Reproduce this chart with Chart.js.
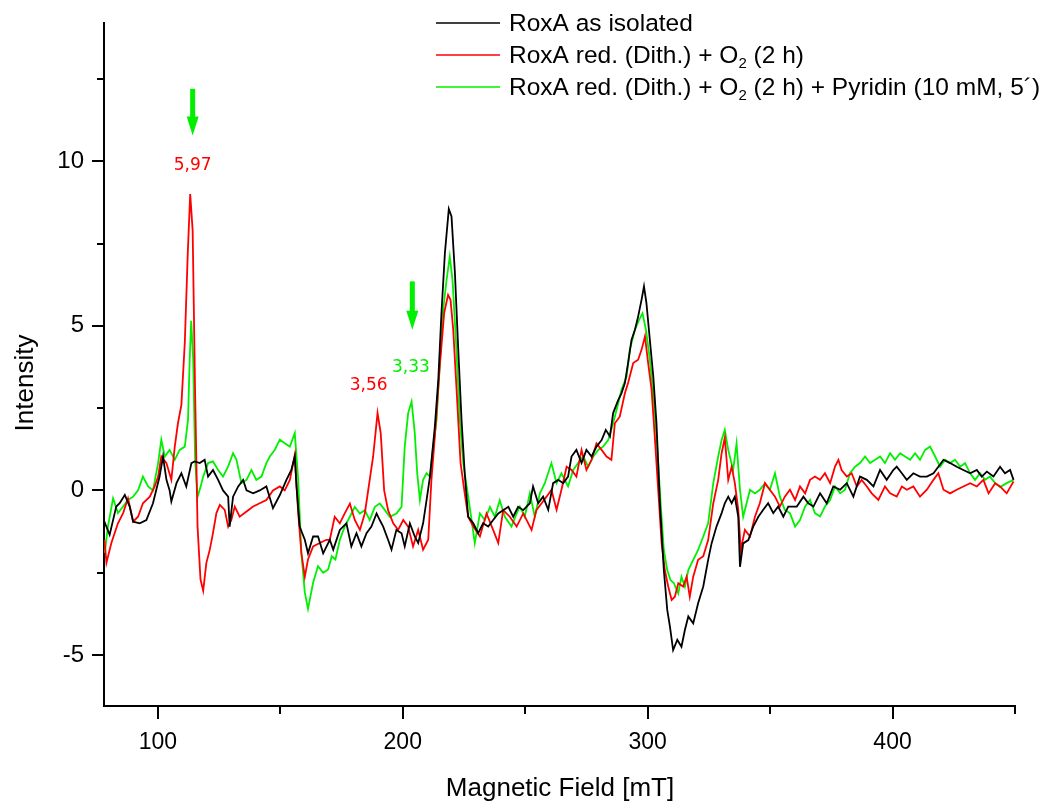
<!DOCTYPE html>
<html>
<head>
<meta charset="utf-8">
<title>RoxA EPR</title>
<script src="https://cdn.jsdelivr.net/npm/chart.js@4.4.1/dist/chart.umd.min.js"></script>
<style>
  html, body { margin: 0; padding: 0; background: #fff; }
  #c { display: block; }
</style>
</head>
<body>
<canvas id="c" width="1043" height="802"></canvas>
<script>
// EPR spectra of RoxA: magnetic field (mT) and intensity for each sample

const fieldBlack = [
  77.9, 80.3, 83, 84.4, 86.5, 88.5, 89.9, 92.6, 95.3, 98,
  100.7, 102.1, 103.5, 104.8, 105.5, 107.6, 109.6, 111.6, 113.7, 115,
  117.1, 119.1, 120.5, 122.5, 124.6, 126.6, 128.7, 129.3, 130.7, 132.8,
  134.8, 136.2, 138.9, 141.6, 144.3, 147, 149.8, 152.5, 154.5, 155.9,
  156.6, 157.9, 160, 161.3, 163.4, 165.4, 167.5, 170.2, 171.6, 174.3,
  177, 179, 181.1, 183.1, 185.2, 187.2, 189.3, 190.6, 192, 194,
  195.4, 197.4, 199.5, 200.8, 202.9, 204.9, 206.3, 208.3, 209.7, 211.1,
  213.1, 214.5, 215.8, 217.2, 218.8, 219.9, 221.3, 222.6, 224, 225.3,
  226.7, 228.8, 230.8, 232.8, 234.9, 236.9, 239, 241, 243.1, 245.1,
  247.1, 249.2, 251.9, 253.2, 255.3, 257.3, 259.4, 261.4, 263.5, 265.5,
  267.5, 268.9, 270.9, 273, 275, 277.1, 279.1, 281.2, 282.9, 284.6,
  285.9, 288, 289.3, 290.7, 292, 293.4, 294.8, 296.1, 297.5, 298.5,
  299.5, 300.9, 302.3, 303.6, 305, 306.6, 308, 309.1, 310.4, 312.1,
  313.8, 315.2, 316.6, 318.6, 320.6, 322.7, 324.7, 326.1, 328.1, 330.2,
  331.5, 332.9, 334.3, 335.6, 337, 337.7, 339, 341.1, 343.1, 345.2,
  347.2, 349.2, 351.3, 353.3, 355.4, 357.4, 360.9, 363.6, 365.6, 367.7,
  370.4, 373.1, 375.8, 378.6, 381.3, 384, 386.7, 389.5, 392.2, 394.9,
  397.6, 400.3, 401.7, 403.8, 405.8, 408.5, 411.2, 414, 416.7, 418.7,
  420.8, 423.5, 426.2, 428.9, 431.7, 434.4, 436.4, 438.5, 441.2, 443.9,
  445.9, 448, 449.4
];
const intensityBlack = [
  -0.9, -1.35, -0.49, -0.39, -0.14, -0.49, -0.95, -1.0, -0.9, -0.39,
  0.42, 1.03, 0.32, 0.0, -0.34, 0.22, 0.52, 0.12, 0.83, 0.88,
  0.83, 0.93, 0.42, 0.62, 0.32, 0.0, -0.19, -1.1, -0.19, 0.12,
  0.32, 0.0, -0.09, 0.0, 0.12, -0.54, -0.14, 0.32, 0.62, 1.03,
  0.12, -1.1, -1.5, -1.91, -1.4, -1.4, -1.91, -1.5, -1.8, -1.2,
  -1.0, -1.7, -1.3, -1.7, -1.3, -1.1, -0.7, -0.9, -1.1, -1.5,
  -1.8, -1.2, -1.3, -1.7, -1.0, -1.4, -1.6, -1.0, -0.3, 0.42,
  1.94, 3.36, 5.39, 7.21, 8.55, 8.32, 6.6, 4.37, 2.14, 0.52,
  -0.8, -1.0, -1.3, -1.0, -1.1, -0.9, -0.7, -0.6, -0.5, -0.8,
  -0.5, -0.6, -0.39, 0.12, -0.39, -0.19, -0.59, 0.22, 0.32, 0.22,
  0.42, 1.03, 1.23, 0.83, 1.23, 1.03, 1.33, 1.53, 1.84, 1.64,
  2.35, 2.75, 2.95, 3.26, 3.87, 4.57, 4.88, 5.28, 5.79, 6.2,
  5.69, 4.57, 3.46, 2.04, -0.39, -2.42, -3.63, -4.14, -4.85, -4.54,
  -4.75, -4.24, -3.83, -4.04, -3.43, -2.92, -2.11, -1.61, -1.1, -0.69,
  -0.39, -0.19, -0.39, -0.19, -0.8, -2.32, -1.61, -1.51, -1.1, -0.8,
  -0.59, -0.39, -0.69, -0.49, -0.8, -0.49, -0.49, -0.19, -0.39, -0.49,
  -0.09, -0.39, 0.12, 0.02, 0.22, -0.19, 0.42, 0.32, 0.12, 0.62,
  0.32, 0.62, 0.72, 0.52, 0.32, 0.52, 0.42, 0.42, 0.52, 0.72,
  0.93, 0.83, 0.72, 0.62, 0.52, 0.62, 0.42, 0.57, 0.42, 0.72,
  0.52, 0.62, 0.32
];

const fieldRed = [
  78.2, 79, 81, 83.7, 85.8, 87.8, 89.9, 91.9, 93.9, 96.7, 98.7,
  100.1, 101.4, 103.5, 105.5, 106.9, 108.2, 109.6, 111, 112.2, 113.2,
  114.2, 115.2, 116.2, 117.4, 118.5, 119.8, 121.2, 122.5, 123.9, 125.3,
  127.3, 128.7, 130, 131.4, 133.4, 136.2, 138.9, 141.6, 144.3, 147,
  149.8, 151.8, 153.9, 155.9, 157.3, 158.6, 160, 161.3, 163.4, 166.1,
  168.8, 170.2, 172.2, 174.3, 176.3, 178.4, 180.4, 182.5, 184.5, 186.5,
  187.9, 189.7, 191, 192.4, 194, 196.1, 198.1, 200.2, 202.2, 204.2,
  206.3, 208.3, 210.4, 211.7, 213.1, 215.1, 216.9, 218.5, 219.5, 220.6,
  221.9, 223.6, 225.3, 226.7, 228.8, 231.5, 234.2, 236.9, 239, 241,
  243.7, 246.5, 249.2, 252.6, 254.6, 256.7, 258.7, 260.7, 262.8, 264.8,
  266.9, 268.9, 270.9, 273, 275, 277.1, 279.1, 281.2, 283.2, 285.2,
  286.6, 288.6, 290.7, 292, 294.1, 296.1, 297.5, 298.9, 300.2, 301.6,
  302.9, 304.3, 305.7, 307, 308.4, 309.8, 311.1, 312.5, 314.5, 315.9,
  317.2, 318.6, 320.6, 322.7, 324.7, 326.8, 328.8, 330.2, 331.5, 332.9,
  334.3, 335.6, 337, 338, 339.7, 341.8, 343.8, 345.8, 347.9, 349.9,
  352, 354, 356, 358.1, 360.2, 362.2, 364.3, 366.3, 368.3, 370.4,
  372.4, 374.5, 376.5, 377.9, 379.2, 381.3, 383.3, 385.4, 387.4, 389.5,
  391.5, 394.2, 396.9, 399, 401.7, 403.8, 405.8, 408.5, 411.2, 414,
  416.7, 418.7, 420.8, 423.5, 426.2, 428.9, 431.7, 434.4, 437.1, 439.2,
  441.9, 443.9, 446.6, 449.4
];
const intensityRed = [
  -1.5, -2.2, -1.6, -1.0, -0.69, -0.24, -0.95, -0.8, -0.39, -0.19, 0.12,
  0.42, 1.03, 0.83, 0.32, 1.33, 2.04, 2.6, 4.5, 7.2, 9.0,
  7.9, 3.0, -1.1, -2.7, -3.05, -2.2, -1.8, -1.3, -0.69, -0.44,
  -0.59, -1.1, -0.9, -0.49, -0.8, -0.64, -0.49, -0.39, -0.29, 0.0,
  0.12, 0.0, 0.32, 1.08, -0.69, -1.91, -2.62, -2.1, -1.7, -1.6,
  -1.5, -1.5, -0.8, -1.0, -0.7, -0.4, -0.9, -1.2, -0.7, 0.32,
  1.03, 2.35, 1.74, 0.0, -0.6, -1.0, -1.2, -0.9, -1.1, -1.7,
  -1.2, -1.8, -1.5, 0.32, 1.64, 3.76, 5.39, 5.94, 5.79, 4.88,
  3.16, 0.83, -0.09, -0.8, -1.1, -1.4, -0.7, -1.2, -1.6, -0.6,
  -0.8, -1.1, -0.7, -1.2, -0.59, -0.39, -0.19, 0.02, -0.59, 0.02,
  0.72, 0.62, 0.42, 1.23, 0.62, 0.93, 1.43, 1.23, 1.03, 0.93,
  2.04, 2.24, 2.95, 3.26, 3.87, 3.97, 4.27, 4.68, 3.87, 3.06,
  1.64, 0.02, -1.61, -2.42, -2.92, -3.33, -3.23, -2.82, -2.92, -2.62,
  -3.23, -2.62, -2.11, -2.0, -1.51, -0.39, 0.32, 1.13, 1.6, 0.32,
  0.72, 0.22, -0.59, -1.81, -1.2, -1.4, -0.8, -0.39, 0.22, 0.02,
  -0.19, -0.49, -0.19, 0.02, -0.29, 0.12, -0.09, 0.32, 0.42, 0.32,
  0.52, 0.22, 0.72, 0.93, 0.62, 0.42, 0.52, 0.12, 0.32, 0.12,
  -0.09, -0.29, 0.12, -0.09, -0.19, 0.12, 0.02, 0.12, -0.19, 0.02,
  0.32, 0.52, 0.02, -0.09, 0.02, 0.12, 0.22, 0.12, 0.32, -0.09,
  0.22, 0.12, -0.09, 0.27
];

const fieldGreen = [
  78.3, 79.6, 81.7, 83.7, 85.8, 87.8, 89.9, 91.9, 93.9, 96,
  98, 100.1, 101.4, 102.8, 104.8, 106.9, 108.9, 111, 112.3, 113,
  113.6, 114.4, 115.2, 116.2, 117.4, 118.5, 120.5, 122.5, 124.6, 126.6,
  128.7, 130.7, 132.1, 134.1, 136.2, 138.2, 140.2, 142.3, 144.3, 145.7,
  147.7, 149.8, 151.8, 153.9, 155.9, 157.3, 158.6, 160, 161.3, 163.4,
  165.4, 167.5, 169.5, 171, 172.5, 174.3, 176.3, 178.4, 180.4, 182.5,
  184.5, 186.5, 188.6, 190.6, 192.7, 194.7, 197.4, 199.5, 200.8, 202.2,
  203.6, 204.9, 205.9, 207, 208.3, 209.7, 211.1, 212.4, 213.8, 215.1,
  216.5, 217.9, 219.2, 220.3, 221.7, 223.3, 224.7, 226.3, 228.1, 229.4,
  231.5, 233.5, 235.6, 237.6, 239.6, 241.7, 244.4, 246.5, 247.8, 249.8,
  251.9, 253.9, 256, 258, 260.7, 262.8, 264.8, 267.5, 269.6, 271.6,
  273.7, 275.7, 277.8, 279.8, 281.8, 283.9, 285.9, 288, 289.3, 291.4,
  292.7, 294.8, 296.5, 297.9, 299.3, 300.9, 302.3, 303.9, 305.3, 306.6,
  308, 309.3, 310.7, 312.5, 313.8, 315.2, 316.6, 318.6, 320.6, 322.7,
  324.7, 326.8, 328.8, 330.2, 331.5, 332.9, 334.9, 336.3, 337.7, 339,
  340.4, 341.8, 343.8, 345.8, 347.9, 349.9, 352, 354, 356, 358.1,
  360.2, 362.2, 364.3, 366.3, 368.3, 370.4, 372.4, 374.5, 376.5, 378.6,
  380.6, 382.6, 384.7, 386.7, 388.8, 390.8, 392.9, 394.9, 396.9, 399,
  401, 403.1, 405.1, 407.2, 409.2, 411.2, 413.3, 415.3, 417.4, 419.4,
  421.5, 423.5, 425.5, 427.6, 429.6, 431.7, 433.7, 435.7, 437.8, 439.8,
  441.9, 443.9, 446.6, 449.4
];
const intensityGreen = [
  -1.9, -1.1, -0.24, -0.69, -0.49, -0.29, -0.19, 0.0, 0.42, 0.12,
  0.0, 0.83, 1.54, 1.03, 1.23, 0.93, 1.23, 1.33, 2.14, 4.0,
  5.15, 4.0, 0.93, -0.2, 0.1, 0.42, 0.83, 0.88, 0.62, 0.42,
  0.73, 1.13, 0.93, 0.22, 0.32, 0.62, 0.32, 0.42, 0.83, 1.03,
  1.23, 1.54, 1.43, 1.33, 1.74, 0.32, -1.91, -3.1, -3.6, -2.8,
  -2.3, -2.5, -2.4, -2.0, -2.1, -1.5, -1.1, -0.8, -0.5, -0.7,
  -0.6, -0.9, -0.5, -0.4, -0.6, -0.8, -0.7, -0.5, 1.33, 2.35,
  2.7, 1.74, 0.52, -0.29, 0.32, 0.52, 0.42, 1.33, 2.14, 3.86,
  5.49, 6.4, 7.11, 6.4, 4.57, 2.14, 0.83, 0.02, -0.9, -1.6,
  -0.7, -0.9, -0.5, -0.8, -0.3, -0.8, -1.1, -0.7, -0.49, -0.8,
  -0.09, -0.8, -0.09, 0.22, 0.83, 0.22, 0.52, 0.12, 0.62, 0.83,
  1.03, 0.72, 1.03, 1.23, 1.33, 1.53, 2.04, 2.65, 3.06, 3.46,
  4.27, 4.88, 5.18, 5.38, 4.88, 3.97, 2.95, 1.33, -0.39, -1.81,
  -2.42, -2.72, -2.82, -3.13, -2.62, -2.92, -2.42, -2.11, -1.81, -1.4,
  -1.0, 0.22, 1.03, 1.53, 1.84, 1.23, 0.62, 1.43, 0.02, -0.8,
  -0.39, 0.02, -0.09, 0.02, 0.22, 0.02, 0.52, -0.19, -0.59, -0.69,
  -1.1, -0.9, -0.49, -0.29, -0.69, -0.79, -0.49, -0.29, 0.12, -0.09,
  0.02, 0.52, 0.72, 0.83, 1.03, 0.83, 0.93, 1.03, 0.83, 1.13,
  0.93, 1.13, 1.03, 0.93, 1.13, 0.93, 1.23, 1.33, 1.03, 0.72,
  0.93, 0.83, 0.93, 0.72, 0.83, 0.52, 0.32, 0.52, 0.32, 0.42,
  0.22, 0.1, 0.22, 0.32
];

const seriesNames = [
  'RoxA as isolated',
  'RoxA red. (Dith.) + O|2| (2 h)',
  'RoxA red. (Dith.) + O|2| (2 h) + Pyridin (10 mM, 5\u00B4)'
];
const seriesColors = ['#000000', '#ff0000', '#00f000'];

const xMajorTicks = [100, 200, 300, 400];
const xMinorTicks = [150, 250, 350, 450];
const yMajorTicks = [-5, 0, 5, 10];
const yMinorTicks = [-2.5, 2.5, 7.5, 12.5];

// g-value markers: [field, intensity, text, colour]
const gLabels = [
  [114.2, 9.86, '5,97', '#ff0000'],
  [186.1, 3.19, '3,56', '#ff0000'],
  [203.3, 3.74, '3,33', '#00f000']
];
// arrows: [field, intensity at tail, intensity at tip]
const gArrows = [
  [114.2, 12.2, 10.78],
  [203.9, 6.35, 4.88]
];

const toPoints = (xs, ys) => xs.map((v, i) => ({ x: v, y: ys[i] }));

const FONT = "'Liberation Sans', Arial, sans-serif";

// text with "|2|" segments drawn as subscripts
function drawRichText(ctx, text, x, y, size) {
  const parts = text.split('|');
  let cx = x;
  parts.forEach((p, i) => {
    const sub = i % 2 === 1;
    ctx.font = (sub ? Math.round(size * 0.62) : size) + 'px ' + FONT;
    ctx.fillText(p, cx, sub ? y + size * 0.32 : y);
    cx += ctx.measureText(p).width;
  });
}

const decorPlugin = {
  id: 'decor',
  afterDraw(chart) {
    const { ctx, chartArea: a, scales: { x, y } } = chart;
    ctx.save();
    ctx.strokeStyle = '#000';
    ctx.lineWidth = 2;
    const seg = (x1, y1, x2, y2) => { ctx.beginPath(); ctx.moveTo(x1, y1); ctx.lineTo(x2, y2); ctx.stroke(); };

    // tick marks outside the axes
    xMajorTicks.forEach(v => { const p = Math.round(x.getPixelForValue(v)); seg(p, a.bottom, p, a.bottom + 13); });
    xMinorTicks.forEach(v => { const p = Math.round(x.getPixelForValue(v)); seg(p, a.bottom, p, a.bottom + 8); });
    yMajorTicks.forEach(v => { const p = Math.round(y.getPixelForValue(v)); seg(a.left, p, a.left - 12, p); });
    yMinorTicks.forEach(v => { const p = Math.round(y.getPixelForValue(v)); seg(a.left, p, a.left - 7, p); });

    // tick labels
    ctx.fillStyle = '#000';
    ctx.textBaseline = 'middle';
    ctx.textAlign = 'right';
    ctx.font = '24px ' + FONT;
    yMajorTicks.forEach(v => ctx.fillText(String(v), 84, y.getPixelForValue(v)));
    ctx.textBaseline = 'top';
    ctx.textAlign = 'center';
    ctx.font = '23px ' + FONT;
    xMajorTicks.forEach(v => ctx.fillText(String(v), x.getPixelForValue(v), 731));

    // axis titles
    ctx.textBaseline = 'alphabetic';
    ctx.font = '26px ' + FONT;
    ctx.fillText('Magnetic Field [mT]', 560, 796);
    ctx.save();
    ctx.translate(33, 383);
    ctx.rotate(-Math.PI / 2);
    ctx.textBaseline = 'alphabetic';
    ctx.fillText('Intensity', 0, 0);
    ctx.restore();

    // legend
    ctx.textAlign = 'left';
    ctx.textBaseline = 'middle';
    const rows = [24, 56, 88];
    seriesNames.forEach((name, i) => {
      ctx.strokeStyle = seriesColors[i];
      ctx.lineWidth = 1.6;
      seg(436, rows[i] - 1, 500, rows[i] - 1);
      ctx.fillStyle = '#000';
      drawRichText(ctx, name, 509, rows[i], 24.5);
    });

    // g-value labels
    ctx.textAlign = 'center';
    ctx.textBaseline = 'middle';
    ctx.font = "17px 'DejaVu Sans', sans-serif";
    gLabels.forEach(([f, v, t, c]) => {
      ctx.fillStyle = c;
      ctx.fillText(t, x.getPixelForValue(f), y.getPixelForValue(v));
    });

    // arrows
    ctx.fillStyle = '#00f000';
    gArrows.forEach(([f, v0, v1]) => {
      const px = x.getPixelForValue(f);
      const top = y.getPixelForValue(v0);
      const tip = y.getPixelForValue(v1);
      const head = 19;
      ctx.fillRect(px - 2.5, top, 5, tip - head - top + 1);
      ctx.beginPath();
      ctx.moveTo(px - 6, tip - head);
      ctx.lineTo(px + 6, tip - head);
      ctx.lineTo(px, tip);
      ctx.closePath();
      ctx.fill();
    });
    ctx.restore();
  }
};

const makeSet = (i, xs, ys) => ({
  label: seriesNames[i].replace(/\|/g, ''),
  data: toPoints(xs, ys),
  borderColor: seriesColors[i],
  borderWidth: 1.8,
  pointRadius: 0,
  tension: 0,
  fill: false
});

new Chart(document.getElementById('c'), {
  type: 'line',
  data: {
    datasets: [
      makeSet(0, fieldBlack, intensityBlack),
      makeSet(1, fieldRed, intensityRed),
      makeSet(2, fieldGreen, intensityGreen)
    ]
  },
  options: {
    responsive: false,
    animation: false,
    devicePixelRatio: 1,
    parsing: false,
    layout: { padding: { top: 23, right: 28, left: 0, bottom: 0 } },
    plugins: { legend: { display: false }, tooltip: { enabled: false } },
    scales: {
      x: {
        type: 'linear', min: 78, max: 450,
        grid: { display: false },
        border: { display: true, color: '#000', width: 2 },
        ticks: { display: false },
        afterFit: s => { s.height = 96; }
      },
      y: {
        type: 'linear', min: -6.55, max: 14.2,
        grid: { display: false },
        border: { display: true, color: '#000', width: 2 },
        ticks: { display: false },
        afterFit: s => { s.width = 104; }
      }
    }
  },
  plugins: [decorPlugin]
});
</script>
</body>
</html>
